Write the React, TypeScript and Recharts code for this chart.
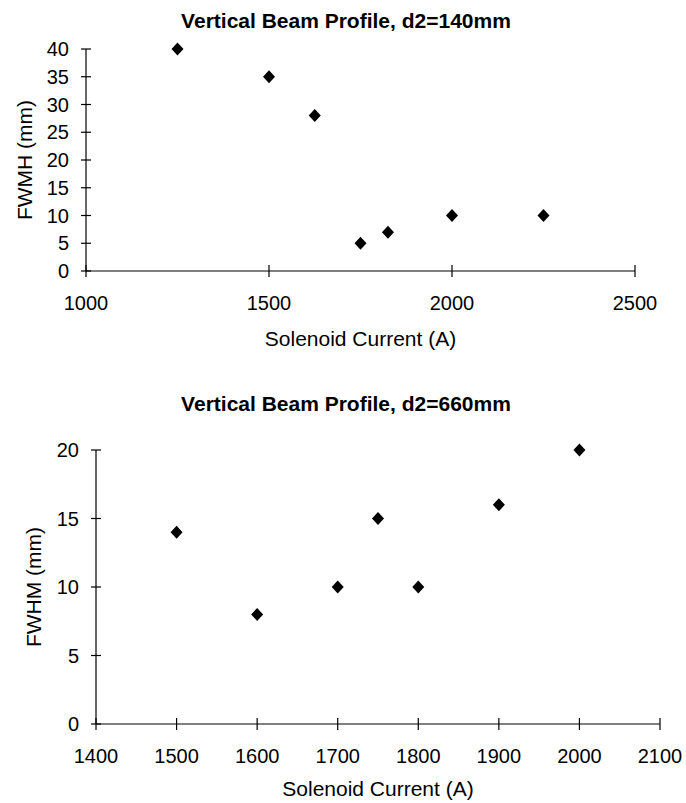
import { ScatterChart, Scatter, XAxis, YAxis } from 'recharts';

// d2 = 140mm
const currentA = [1250, 1500, 1625, 1750, 1825, 2000, 2250];
const fwhmA = [40, 35, 28, 5, 7, 10, 10];
const xTicksA = [1000, 1500, 2000, 2500];
const yTicksA = [0, 5, 10, 15, 20, 25, 30, 35, 40];

// d2 = 660mm
const currentB = [1500, 1600, 1700, 1750, 1800, 1900, 2000];
const fwhmB = [14, 8, 10, 15, 10, 16, 20];
const xTicksB = [1400, 1500, 1600, 1700, 1800, 1900, 2000, 2100];
const yTicksB = [0, 5, 10, 15, 20];

const FONT = '"Liberation Sans", Arial, Helvetica, sans-serif';

const toPoints = (xs: number[], ys: number[]) => xs.map((x, i) => ({ x, y: ys[i] }));

const Diamond = ({ cx, cy }: any) => (
  <path d={`M${cx},${cy - 6.5}L${cx + 6},${cy}L${cx},${cy + 6.5}L${cx - 6},${cy}Z`} fill="#000" />
);

const XTick = ({ x, y, payload }: any) => (
  <g>
    <line x1={x} x2={x} y1={y - 6} y2={y + 6} stroke="#000" strokeWidth={1.2} />
    <text x={x} y={y + 32} textAnchor="middle" dominantBaseline="central" fontFamily={FONT} fontSize={20} fill="#000">
      {payload.value}
    </text>
  </g>
);

const YTick = ({ x, y, payload }: any) => (
  <g>
    <line x1={x - 5} x2={x + 5} y1={y} y2={y} stroke="#000" strokeWidth={1.2} />
    <text x={x - 17} y={y} textAnchor="end" dominantBaseline="central" fontFamily={FONT} fontSize={20} fill="#000">
      {payload.value}
    </text>
  </g>
);

const xTitle = (text: string, dy: number) => ({ viewBox }: any) => (
  <text
    x={viewBox.x + viewBox.width / 2}
    y={viewBox.y + dy}
    textAnchor="middle"
    dominantBaseline="central"
    fontFamily={FONT}
    fontSize={21}
    fill="#000"
  >
    {text}
  </text>
);

const yTitle = (text: string, cxPos: number) => ({ viewBox }: any) => {
  const cy = viewBox.y + viewBox.height / 2;
  return (
    <text
      x={cxPos}
      y={cy}
      transform={`rotate(-90 ${cxPos} ${cy})`}
      textAnchor="middle"
      dominantBaseline="central"
      fontFamily={FONT}
      fontSize={21}
      fill="#000"
    >
      {text}
    </text>
  );
};

const titleStyle: React.CSSProperties = {
  position: 'absolute',
  left: 0,
  width: 692,
  textAlign: 'center',
  fontFamily: FONT,
  fontWeight: 'bold',
  fontSize: 21,
  lineHeight: '24px',
  color: '#000',
};

export default function App() {
  return (
    <div style={{ position: 'absolute', left: 0, top: 0, width: 686, height: 803, background: '#fff' }}>
      <div style={{ ...titleStyle, top: 9 }}>Vertical Beam Profile, d2=140mm</div>
      <div style={{ position: 'absolute', left: 0, top: 0 }}>
        <ScatterChart width={686} height={360} margin={{ top: 49, right: 51, bottom: 0, left: 0 }}>
          <XAxis
            type="number"
            dataKey="x"
            domain={[1000, 2500]}
            ticks={xTicksA}
            height={89}
            tickSize={0}
            tickMargin={0}
            tickLine={false}
            axisLine={{ stroke: '#000', strokeWidth: 1.2 }}
            tick={XTick}
            interval={0}
            label={xTitle('Solenoid Current (A)', 67)}
          />
          <YAxis
            type="number"
            dataKey="y"
            domain={[0, 40]}
            ticks={yTicksA}
            width={86}
            tickSize={0}
            tickMargin={0}
            tickLine={false}
            axisLine={{ stroke: '#000', strokeWidth: 1.2 }}
            tick={YTick}
            interval={0}
            label={yTitle('FWMH (mm)', 24)}
          />
          <Scatter data={toPoints(currentA, fwhmA)} fill="#000" shape={Diamond} isAnimationActive={false} />
        </ScatterChart>
      </div>

      <div style={{ ...titleStyle, top: 392 }}>Vertical Beam Profile, d2=660mm</div>
      <div style={{ position: 'absolute', left: 0, top: 380 }}>
        <ScatterChart width={686} height={423} margin={{ top: 70, right: 26, bottom: 0, left: 0 }}>
          <XAxis
            type="number"
            dataKey="x"
            domain={[1400, 2100]}
            ticks={xTicksB}
            height={79}
            tickSize={0}
            tickMargin={0}
            tickLine={false}
            axisLine={{ stroke: '#000', strokeWidth: 1.2 }}
            tick={XTick}
            interval={0}
            label={xTitle('Solenoid Current (A)', 64)}
          />
          <YAxis
            type="number"
            dataKey="y"
            domain={[0, 20]}
            ticks={yTicksB}
            width={96}
            tickSize={0}
            tickMargin={0}
            tickLine={false}
            axisLine={{ stroke: '#000', strokeWidth: 1.2 }}
            tick={YTick}
            interval={0}
            label={yTitle('FWHM (mm)', 33)}
          />
          <Scatter data={toPoints(currentB, fwhmB)} fill="#000" shape={Diamond} isAnimationActive={false} />
        </ScatterChart>
      </div>
    </div>
  );
}
